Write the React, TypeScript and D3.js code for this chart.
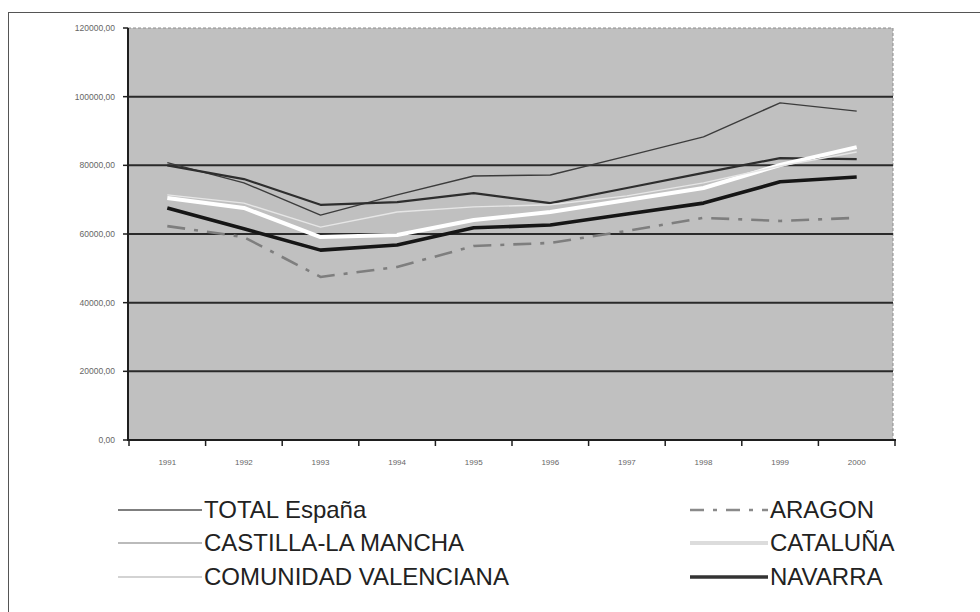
import React from "react";
import * as d3 from "d3";

// Years on the category axis
const years = ["1991", "1992", "1993", "1994", "1995", "1996", "1997", "1998", "1999", "2000"];

// Series values, one per year
const totalEspana = [80800, 74900, 65500, 71400, 76900, 77200, 82700, 88300, 98200, 95800];
const aragon = [62300, 59100, 47500, 50400, 56500, 57400, 60900, 64700, 63800, 64700];
const castillaLaMancha = [80000, 76000, 68500, 69300, 71900, 69000, 73400, 77800, 82100, 81800];
const cataluna = [70500, 67600, 59100, 59700, 64100, 66400, 69900, 73400, 80100, 85300];
const comunidadValenciana = [71400, 69000, 62000, 66400, 67900, 68500, 71100, 74900, 79800, 83900];
const navarra = [67600, 61500, 55300, 56800, 61800, 62600, 65800, 69000, 75200, 76600];

// Value axis ticks
const yTicks = [0, 20000, 40000, 60000, 80000, 100000, 120000];

type Series = {
  name: string;
  values: number[];
  stroke: string;
  width: number;
  dash?: string;
  legendStroke: string;
};

const series: Series[] = [
  { name: "TOTAL España", values: totalEspana, stroke: "#3c3c3c", width: 1.4, legendStroke: "#555" },
  { name: "ARAGON", values: aragon, stroke: "#7e7e7e", width: 2.6, dash: "18,9,4,9", legendStroke: "#8a8a8a" },
  { name: "CASTILLA-LA MANCHA", values: castillaLaMancha, stroke: "#2e2e2e", width: 2.2, legendStroke: "#bbb" },
  { name: "CATALUÑA", values: cataluna, stroke: "#ffffff", width: 4, legendStroke: "#dcdcdc" },
  { name: "COMUNIDAD VALENCIANA", values: comunidadValenciana, stroke: "#e6e6e6", width: 1.4, legendStroke: "#c4c4c4" },
  { name: "NAVARRA", values: navarra, stroke: "#161616", width: 3.6, legendStroke: "#333" },
];

const W = 980;
const H = 612;
const plot = { left: 128, right: 893, top: 28, bottom: 440 };

export default function App() {
  const x = d3.scaleBand<string>().domain(years).range([129, 895]).padding(0);
  const y = d3.scaleLinear().domain([0, 120000]).range([plot.bottom, plot.top]);
  const cx = (i: number) => (x(years[i]) as number) + x.bandwidth() / 2;
  const line = d3
    .line<number>()
    .x((_, i) => cx(i))
    .y((v) => y(v));

  const fmt = (v: number) => (v === 0 ? "0,00" : `${v},00`);
  const boundaries = [...years.map((yr) => x(yr) as number), (x(years[years.length - 1]) as number) + x.bandwidth()];

  // legend grid: series order fills rows left to right
  const legendCols = [
    { lineX0: 118, lineX1: 202, textX: 204 },
    { lineX0: 690, lineX1: 768, textX: 770 },
  ];
  const legendRows = [518, 551, 585];

  return (
    <svg
      width={W}
      height={H}
      style={{ position: "absolute", left: 0, top: 0, background: "#fff" }}
      fontFamily="'Liberation Sans', Arial, sans-serif"
    >
      <rect x={8.5} y={12.5} width={1000} height={700} fill="#fff" stroke="#555" strokeWidth={1} />

      {/* plot area */}
      <rect x={plot.left} y={plot.top} width={plot.right - plot.left} height={plot.bottom - plot.top} fill="#c0c0c0" />
      <line x1={plot.left} x2={plot.right} y1={plot.top} y2={plot.top} stroke="#8c8c8c" strokeWidth={1} strokeDasharray="3,2" />
      <line x1={plot.right} x2={plot.right} y1={plot.top} y2={plot.bottom} stroke="#8c8c8c" strokeWidth={1} strokeDasharray="3,2" />

      {/* gridlines */}
      {yTicks
        .filter((t) => t > 0 && t < 120000)
        .map((t) => (
          <line key={t} x1={plot.left} x2={plot.right} y1={y(t)} y2={y(t)} stroke="#2a2a2a" strokeWidth={2} />
        ))}

      {/* series */}
      {series.map((s) => (
        <path
          key={s.name}
          d={line(s.values) || ""}
          fill="none"
          stroke={s.stroke}
          strokeWidth={s.width}
          strokeDasharray={s.dash}
          strokeLinejoin="round"
        />
      ))}

      {/* value axis */}
      <line x1={plot.left} x2={plot.left} y1={plot.top} y2={plot.bottom + 1} stroke="#1e1e1e" strokeWidth={2} />
      {yTicks.map((t) => (
        <g key={t}>
          <line x1={123} x2={plot.left} y1={y(t)} y2={y(t)} stroke="#1e1e1e" strokeWidth={1.5} />
          <text x={115} y={y(t) + 3} textAnchor="end" fontSize={8.5} fill="#666">
            {fmt(t)}
          </text>
        </g>
      ))}

      {/* category axis */}
      <line x1={plot.left} x2={896} y1={plot.bottom} y2={plot.bottom} stroke="#1e1e1e" strokeWidth={2} />
      {boundaries.map((b, i) => (
        <line key={i} x1={b} x2={b} y1={plot.bottom} y2={plot.bottom + 6} stroke="#1e1e1e" strokeWidth={1.5} />
      ))}
      {years.map((yr, i) => (
        <text key={yr} x={cx(i)} y={465} textAnchor="middle" fontSize={8} fill="#666">
          {yr}
        </text>
      ))}

      {/* legend */}
      {series.map((s, i) => {
        const col = legendCols[i % 2];
        const base = legendRows[Math.floor(i / 2)];
        const ly = base - 8;
        return (
          <g key={s.name}>
            <line
              x1={col.lineX0}
              x2={col.lineX1}
              y1={ly}
              y2={ly}
              stroke={s.legendStroke}
              strokeWidth={s.width}
              strokeDasharray={s.dash ? "14,9,4,9" : undefined}
            />
            <text x={col.textX} y={base} fontSize={24} fill="#222">
              {s.name}
            </text>
          </g>
        );
      })}
    </svg>
  );
}
